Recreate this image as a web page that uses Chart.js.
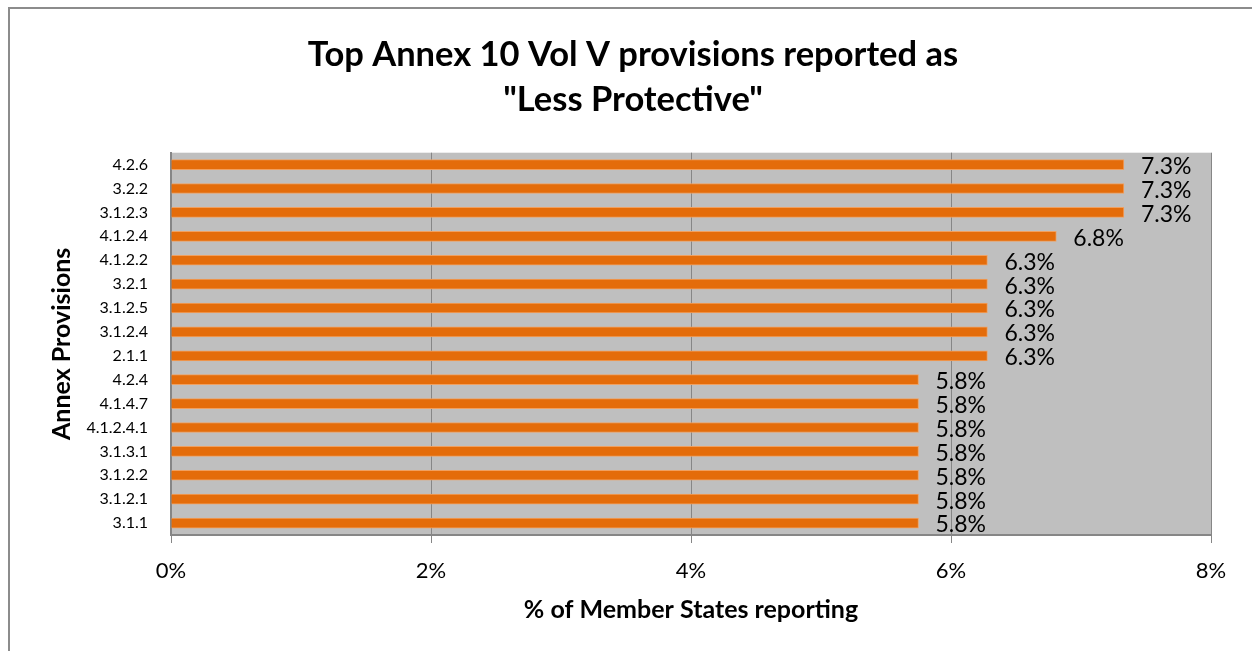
<!DOCTYPE html>
<html>
<head>
<meta charset="utf-8">
<script src="https://cdn.jsdelivr.net/npm/chart.js@4/dist/chart.umd.min.js"></script>
<style>
  body { margin: 0; background: #fff; }
  canvas { display: block; }
</style>
</head>
<body>
<canvas id="chart" width="1252" height="651"></canvas>
<script>
// Provisions (top to bottom) and share of Member States reporting, in %
const provisions = ['4.2.6', '3.2.2', '3.1.2.3', '4.1.2.4', '4.1.2.2', '3.2.1', '3.1.2.5', '3.1.2.4',
  '2.1.1', '4.2.4', '4.1.4.7', '4.1.2.4.1', '3.1.3.1', '3.1.2.2', '3.1.2.1', '3.1.1'];
const percentReporting = [7.33, 7.33, 7.33, 6.81, 6.28, 6.28, 6.28, 6.28,
  6.28, 5.75, 5.75, 5.75, 5.75, 5.75, 5.75, 5.75];
const xTicks = [0, 2, 4, 6, 8];

const titleLines = ['Top Annex 10 Vol V provisions reported as', '"Less Protective"'];
const FONT = 'Lato, "Open Sans", sans-serif';

// Grey plot background + outer frame
const frame = {
  id: 'frame',
  beforeDraw(chart) {
    const { ctx, chartArea: a } = chart;
    ctx.save();
    ctx.fillStyle = '#bfbfbf';
    ctx.fillRect(a.left, a.top, a.right - a.left, a.bottom - a.top);
    ctx.strokeStyle = '#8c8c8c';
    ctx.lineWidth = 2;
    ctx.strokeRect(9, 8, 1300, 700);
    ctx.restore();
  }
};

// Value labels to the right of each bar
const valueLabels = {
  id: 'valueLabels',
  afterDatasetsDraw(chart) {
    const { ctx } = chart;
    const meta = chart.getDatasetMeta(0);
    ctx.save();
    ctx.font = '23px ' + FONT;
    ctx.fillStyle = '#000';
    ctx.textBaseline = 'middle';
    ctx.textAlign = 'left';
    meta.data.forEach((bar, i) => {
      ctx.fillText(percentReporting[i].toFixed(1) + '%', bar.x + 17, bar.y + 2);
    });
    ctx.restore();
  }
};

new Chart(document.getElementById('chart'), {
  type: 'bar',
  data: {
    labels: provisions,
    datasets: [{
      data: percentReporting,
      backgroundColor: '#e46c0a',
      borderColor: '#f0a060',
      borderWidth: 1,
      barThickness: 10
    }]
  },
  options: {
    indexAxis: 'y',
    responsive: false,
    animation: false,
    layout: { padding: { left: 14, right: 0, top: 0, bottom: 0 } },
    plugins: {
      legend: { display: false },
      tooltip: { enabled: false },
      title: {
        display: true,
        text: titleLines,
        color: '#000',
        font: { family: FONT, size: 34.5, weight: 'bold', lineHeight: 1.3 },
        padding: { top: 32.5, bottom: 30.5 }
      }
    },
    scales: {
      x: {
        min: 0,
        max: 8,
        afterBuildTicks(scale) { scale.ticks = xTicks.map(v => ({ value: v })); },
        afterFit(scale) { scale.height = 116; },
        ticks: {
          color: '#000',
          font: { family: FONT, size: 22 },
          padding: 15,
          callback: v => v + '%'
        },
        grid: { color: '#868686', lineWidth: 1, tickLength: 8, tickColor: '#868686' },
        border: { display: true, color: '#868686', width: 2 },
        title: {
          display: true,
          text: '% of Member States reporting',
          color: '#000',
          font: { family: FONT, size: 25, weight: 'bold' },
          padding: { top: 26, bottom: 26 }
        }
      },
      y: {
        afterFit(scale) { scale.width = 157; },
        ticks: {
          color: '#000',
          font: { family: FONT, size: 16 },
          padding: 15
        },
        grid: { display: false },
        border: { display: true, color: '#868686', width: 2 },
        title: {
          display: true,
          text: 'Annex Provisions',
          color: '#000',
          font: { family: FONT, size: 25, weight: 'bold' },
          padding: { top: 33, bottom: 33 }
        }
      },
      // empty right-hand strip so the plot ends where the reference does
      yRight: {
        position: 'right',
        display: true,
        afterFit(scale) { scale.width = 41; },
        ticks: { display: false },
        grid: { display: false },
        border: { display: false }
      }
    }
  },
  plugins: [frame, valueLabels]
});
</script>
</body>
</html>
